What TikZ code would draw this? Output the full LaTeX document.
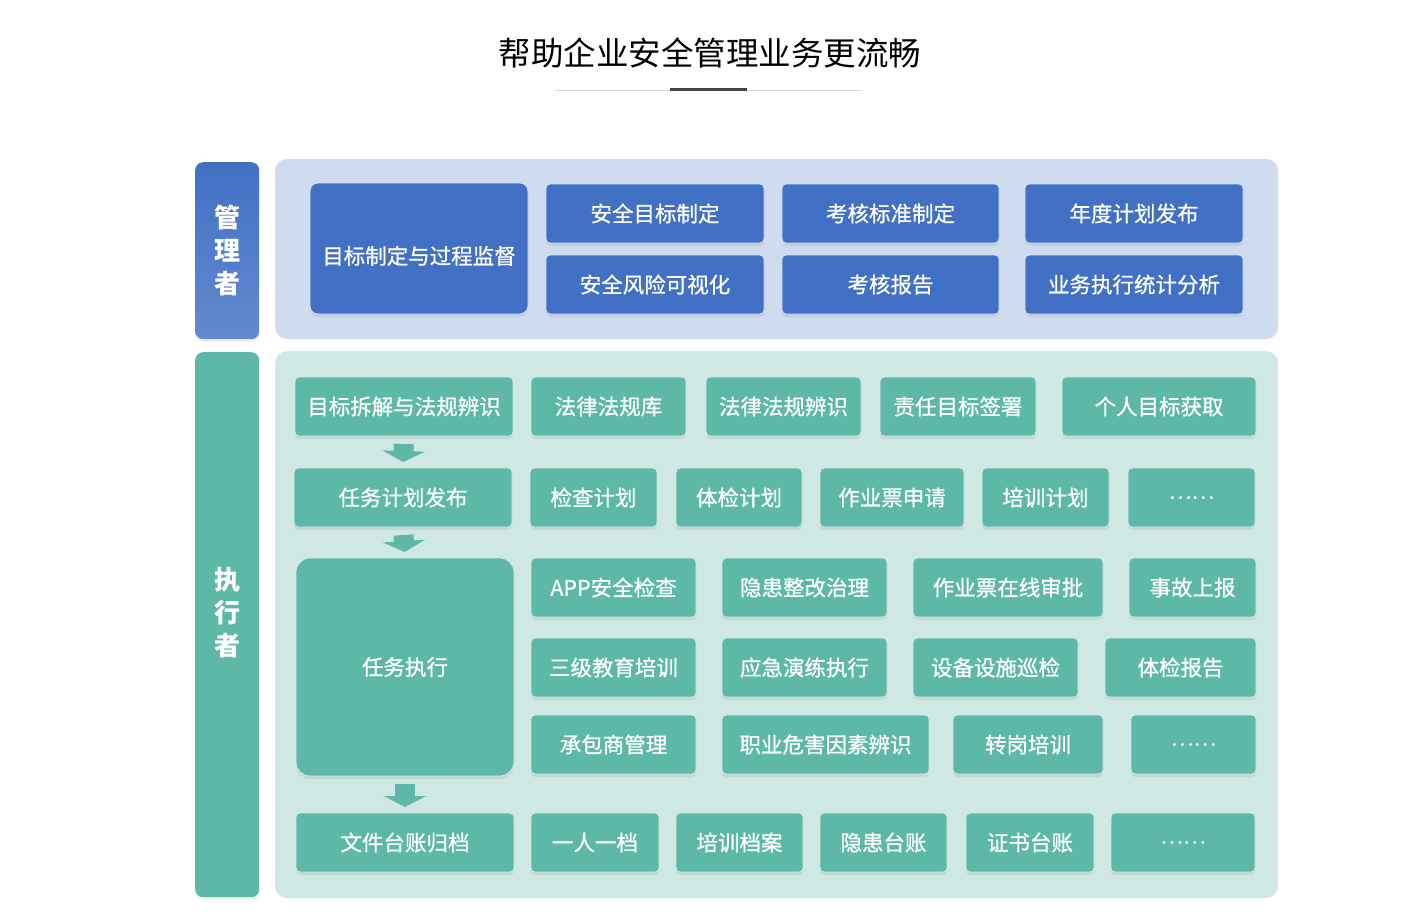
\documentclass[tikz,border=0pt]{standalone}
\usepackage{fontspec}
\setmainfont{Noto Sans CJK SC}
\newfontfamily\boxfont{Noto Sans CJK SC}[FakeBold=0.7]
\usetikzlibrary{positioning, arrows.meta, shadows}
\definecolor{mgrblue}{HTML}{4170C4}
\definecolor{mgrpanel}{HTML}{CFDBEE}
\definecolor{exeteal}{HTML}{5DB8A8}
\definecolor{exepanel}{HTML}{CFE8E3}
\definecolor{rulegray}{HTML}{D6D9DE}
\definecolor{ruledark}{HTML}{444444}

\begin{document}
\begin{tikzpicture}[x=1pt, y=-1pt, font=\boxfont\fontsize{21.5}{24}\selectfont,
  mbox/.style={draw=white!80!mgrblue, line width=0.8pt, fill=mgrblue, rounded corners=4pt, text=white, minimum height=59pt, inner sep=0pt, outer sep=0pt, drop shadow={opacity=0.15, shadow xshift=0pt, shadow yshift=-3pt}},
  ebox/.style={draw=white!75!exeteal, line width=0.8pt, fill=exeteal, rounded corners=4pt, text=white, minimum height=59pt, inner sep=0pt, outer sep=0pt, drop shadow={opacity=0.15, shadow xshift=0pt, shadow yshift=-3pt}},
  rolebar/.style={rounded corners=8pt, minimum width=64pt, inner sep=0pt, drop shadow={opacity=0.12, shadow xshift=0pt, shadow yshift=-3pt}},
  rolename/.style={text=white, align=center, font=\rmfamily\fontsize{26}{33}\selectfont\bfseries},
  flowarrow/.style={line width=20pt, exeteal, -{Triangle[width=42pt, length=11pt]}, shorten <=8pt, shorten >=6pt}]
\useasboundingbox (0,0) rectangle (1420,913);

% title
\node[font=\rmfamily\fontsize{32.5}{36}\selectfont] (title) at (710,53) {帮助企业安全管理业务更流畅};
\draw[rulegray, line width=1pt] (555,90) -- (862,90);
\draw[ruledark, line width=3pt] (670,89.5) -- (747,89.5);

% panels
\fill[mgrpanel, rounded corners=12pt] (275,159) rectangle (1278,339);
\fill[exepanel, rounded corners=12pt] (275,351) rectangle (1278,898);

% roles
\node[rolebar, top color=mgrblue, bottom color=mgrblue!82!white, minimum height=177pt, anchor=north west] (mgrbar) at (195,162) {};
\node[rolename] (mgrname) at (mgrbar.center) {管\\理\\者};
\node[rolebar, fill=exeteal, minimum height=545pt, anchor=north west] (exebar) at (195,352) {};
\node[rolename] (exename) at (227,613) {执\\行\\者};

% manager
\node[mbox, rounded corners=8pt, minimum width=218pt, minimum height=131pt, text height=33pt, anchor=north west] (goalset) at (310,183) {目标制定与过程监督};
\node[mbox, minimum width=218pt, anchor=north west] (safegoal) at (546,184) {安全目标制定};
\node[mbox, minimum width=218pt, below=12pt of safegoal] (riskvis) {安全风险可视化};
\node[mbox, minimum width=217pt, right=18pt of safegoal] (examstd) {考核标准制定};
\node[mbox, minimum width=217pt, below=12pt of examstd] (examrep) {考核报告};
\node[mbox, minimum width=218pt, right=26pt of examstd] (yearplan) {年度计划发布};
\node[mbox, minimum width=218pt, below=12pt of yearplan] (bizstat) {业务执行统计分析};

% executor, row 1
\node[ebox, minimum width=218pt, anchor=north west] (split) at (295,377) {目标拆解与法规辨识};
\node[ebox, minimum width=155pt, right=18pt of split] (lawlib) {法律法规库};
\node[ebox, minimum width=155pt, right=20pt of lawlib] (lawid) {法律法规辨识};
\node[ebox, minimum width=156pt, right=19pt of lawid] (dutysign) {责任目标签署};
\node[ebox, minimum width=194pt, right=26pt of dutysign] (owngoal) {个人目标获取};

% row 2
\node[ebox, minimum width=218pt, anchor=north west] (taskplan) at (294,468) {任务计划发布};
\node[ebox, minimum width=127pt, right=18pt of taskplan] (checkplan) {检查计划};
\node[ebox, minimum width=126pt, right=19pt of checkplan] (medplan) {体检计划};
\node[ebox, minimum width=144pt, right=18pt of medplan] (ticketreq) {作业票申请};
\node[ebox, minimum width=127pt, right=18pt of ticketreq] (trainplan) {培训计划};
\node[ebox, minimum width=127pt, right=19pt of trainplan] (moreA) {……};

% rows 3-5
\node[ebox, rounded corners=14pt, minimum width=218pt, minimum height=218pt, anchor=north west] (taskrun) at (296,558) {任务执行};
\node[ebox, minimum width=165pt, anchor=north west] (appcheck) at (531,558) {APP安全检查};
\node[ebox, minimum width=165pt, right=26pt of appcheck] (hazfix) {隐患整改治理};
\node[ebox, minimum width=190pt, right=26pt of hazfix] (ticketok) {作业票在线审批};
\node[ebox, minimum width=127pt, right=26pt of ticketok] (accident) {事故上报};
\node[ebox, minimum width=165pt, anchor=north west] (edu) at (531,638) {三级教育培训};
\node[ebox, minimum width=165pt, right=26pt of edu] (drill) {应急演练执行};
\node[ebox, minimum width=165pt, right=26pt of drill] (patrol) {设备设施巡检};
\node[ebox, minimum width=151pt, right=27pt of patrol] (medrep) {体检报告};
\node[ebox, minimum width=165pt, anchor=north west] (contractor) at (531,715) {承包商管理};
\node[ebox, minimum width=207pt, right=26pt of contractor] (occhaz) {职业危害因素辨识};
\node[ebox, minimum width=150pt, right=24pt of occhaz] (jobtrain) {转岗培训};
\node[ebox, minimum width=125pt, right=28pt of jobtrain] (moreB) {……};

% row 6
\node[ebox, minimum width=218pt, anchor=north west] (archive) at (296,813) {文件台账归档};
\node[ebox, minimum width=128pt, right=17pt of archive] (perfile) {一人一档};
\node[ebox, minimum width=127pt, right=17pt of perfile] (trainfile) {培训档案};
\node[ebox, minimum width=127pt, right=17pt of trainfile] (hazbook) {隐患台账};
\node[ebox, minimum width=128pt, right=19pt of hazbook] (certbook) {证书台账};
\node[ebox, minimum width=144pt, right=17pt of certbook] (moreC) {……};

\draw[flowarrow] (split.south) -- (taskplan.north);
\draw[flowarrow] (taskplan.south) -- (taskrun.north);
\draw[flowarrow] (taskrun.south) -- (archive.north);
\end{tikzpicture}
\end{document}
